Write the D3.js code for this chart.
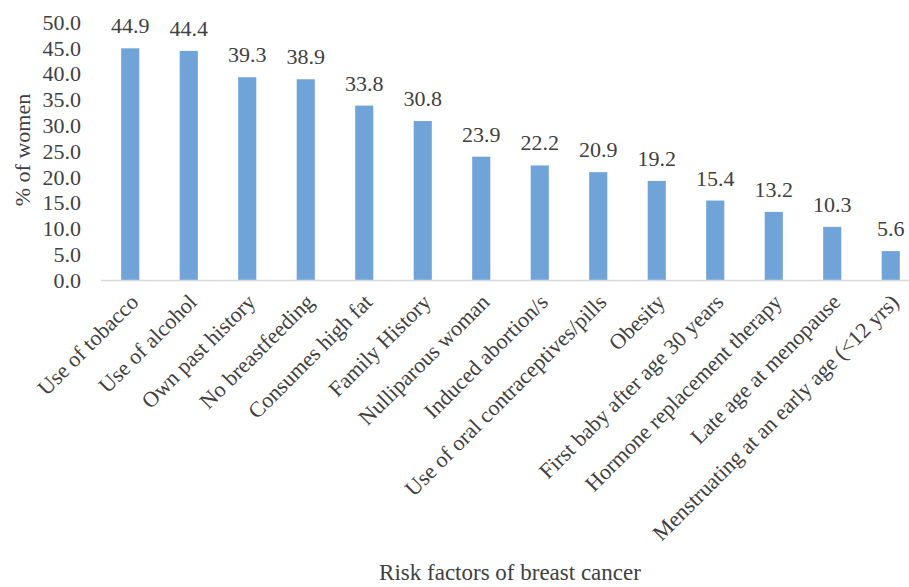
<!DOCTYPE html>
<html>
<head>
<meta charset="utf-8">
<script src="https://cdn.jsdelivr.net/npm/d3@7"></script>
<style>
  body { margin: 0; background: #fff; }
  svg text { fill: #404040; }
</style>
</head>
<body>
<svg id="chart" width="909" height="587" font-family="'Times New Roman', Times, 'Liberation Serif', 'DejaVu Serif', serif"></svg>
<script>
// Chart data
const categories = [
    "Use of tobacco", "Use of alcohol", "Own past history", "No breastfeeding",
    "Consumes high fat", "Family History", "Nulliparous woman", "Induced abortion/s",
    "Use of oral contraceptives/pills", "Obesity", "First baby after age 30 years",
    "Hormone replacement therapy", "Late age at menopause",
    "Menstruating at an early age (<12 yrs)"
];
const values = [44.9, 44.4, 39.3, 38.9, 33.8, 30.8, 23.9, 22.2, 20.9, 19.2, 15.4, 13.2, 10.3, 5.6];
const yTicks = [0, 5, 10, 15, 20, 25, 30, 35, 40, 45, 50];

const svg = d3.select("#chart");

// Plot area (axis runs past the right edge, as in the original)
const plotLeft = 101, plotRight = 920, plotTop = 22, plotBottom = 280;

const x = d3.scaleBand()
    .domain(categories)
    .range([plotLeft, plotRight])
    .paddingInner(0.69)
    .paddingOuter(0.345);

const y = d3.scaleLinear()
    .domain([0, 50])
    .range([plotBottom, plotTop]);

// Y axis labels (no axis line, no ticks)
svg.append("g")
    .selectAll("text")
    .data(yTicks)
    .join("text")
    .attr("x", 81)
    .attr("y", d => y(d))
    .attr("dy", "0.35em")
    .attr("text-anchor", "end")
    .style("font-size", "22px")
    .text(d => d.toFixed(1));

// Bars
svg.append("g")
    .selectAll("rect")
    .data(values)
    .join("rect")
    .attr("x", (d, i) => x(categories[i]))
    .attr("y", d => y(d))
    .attr("width", x.bandwidth())
    .attr("height", d => plotBottom - y(d))
    .attr("fill", "#70a4d8");

// Value labels
svg.append("g")
    .selectAll("text")
    .data(values)
    .join("text")
    .attr("x", (d, i) => x(categories[i]) + x.bandwidth() / 2)
    .attr("y", d => y(d) - 15)
    .attr("text-anchor", "middle")
    .style("font-size", "22px")
    .text(d => d.toFixed(1));

// Baseline
svg.append("line")
    .attr("x1", plotLeft)
    .attr("x2", plotRight)
    .attr("y1", plotBottom + 0.5)
    .attr("y2", plotBottom + 0.5)
    .attr("stroke", "#d9d9d9")
    .attr("stroke-width", 1.5);

// Rotated category labels
svg.append("g")
    .selectAll("text")
    .data(categories)
    .join("text")
    .attr("transform", d => `translate(${x(d) + x.bandwidth() / 2 + 4},${plotBottom + 18}) rotate(-45)`)
    .attr("text-anchor", "end")
    .attr("dy", "0.35em")
    .style("font-size", "22px")
    .text(d => d);

// Axis titles
svg.append("text")
    .attr("transform", "translate(22,150) rotate(-90)")
    .attr("text-anchor", "middle")
    .attr("dy", "0.35em")
    .style("font-size", "22px")
    .text("% of women");

svg.append("text")
    .attr("x", 510)
    .attr("y", 580)
    .attr("text-anchor", "middle")
    .style("font-size", "23px")
    .text("Risk factors of breast cancer");
</script>
</body>
</html>
